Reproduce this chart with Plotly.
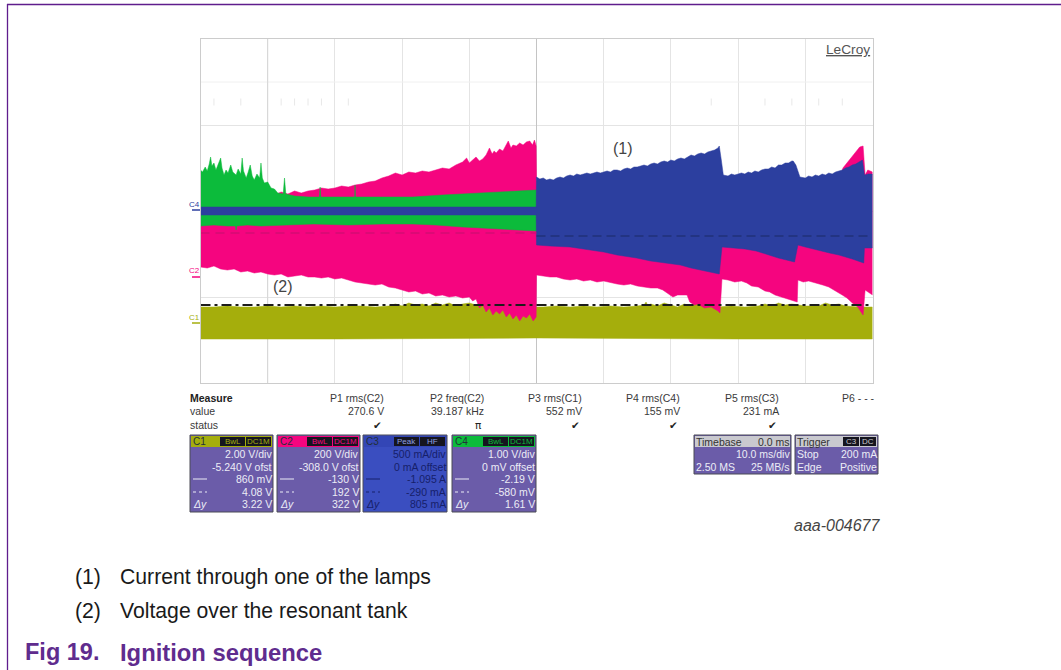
import plotly.graph_objects as go

# --- scope trace envelopes: t in ms (10 ms/div), level in screen units (43 units = 1 div, 0 = centre)
green_top_t = [0,.3,.7,1,1.3,1.5,1.7,2,2.3,2.6,3,3.2,3.5,3.8,4.1,4.5,4.8,5.3,5.6,6,6.2,6.4,6.8,7.1,7.4,7.7,8,8.4,8.8,9,9.2,9.5,10,10.5,11,11.5,12.3,12.5,12.7,14,16,17.7,17.8,17.9,20,22.95,23,23.05,27,31.6,36,41.6,46,50]
green_top_u = [41,39,44,40,47,54,45,48,41,46,53,43,36,41,38,46,39,36,42,37,53,40,33,39,46,35,31,37,33,48,33,28,29,23,22,18,17,33,17,15,14,14,24,14,14,14,26,14,14,14,16,18,19,21]
green_bot_t = [0,2,4,5.2,5.3,5.4,7,9,12,16.8,22,27,31.6,35,39,44,50]
green_bot_u = [-15,-14,-15,-15,-19,-15,-14,-15,-14,-13,-14,-13,-13,-14,-16,-18,-20]

blue_top_t = [0,49.95,50,50.5,51,51.5,52,52.5,53,53.5,54,54.5,55,55.5,56,56.5,57,57.5,58,58.5,59,59.5,60,60.5,61,61.5,62,62.5,63,63.5,64,64.5,65,65.5,66,66.5,67,67.5,68,68.5,69,69.5,70,70.5,71,71.5,72,72.5,73,73.5,74,74.5,75,75.5,76,76.5,77,77.2,77.5,77.8,78.5,79,79.5,80,80.5,81,81.5,82,82.5,83,83.5,84,84.5,85,85.5,86,86.5,87,87.5,88,88.2,88.6,89.2,90,90.5,91,91.5,92,92.5,93,93.5,94,94.5,95,95.5,96,96.5,97,97.5,98,98.5,98.8,99.4,100]
blue_top_u = [4,4,34,32,33,31,32,31,33,34,33,35,36,35,37,36,37,38,37,38,39,38,39,40,39,41,41,40,42,43,42,44,44,45,46,45,47,48,47,49,50,49,51,50,52,53,52,54,56,55,57,58,57,59,60,61,63,65,51,36,35,37,36,37,38,37,39,38,40,39,41,42,42,44,43,46,46,48,48,50,50,46,34,33,35,34,36,35,37,36,38,37,39,40,41,43,44,46,47,49,51,36,37,37]
blue_bot_t = [0,49.95,50,52,55,57,60,62,64.9,67,69,71.4,73,75,77.2,77.6,79,81,82.7,84,86,88.4,88.9,90,92,93.6,95,97,98.7,98.8,100]
blue_bot_u = [-4,-4,-34,-35,-36,-38,-41,-44,-47,-50,-52,-54,-57,-60,-63,-36,-37,-38,-40,-43,-47,-51,-34,-36,-39,-42,-44,-48,-52,-37,-37]

pink_top_t = [0,11,12,13,14,15,16,17,18,19,20,21,22,23,24,25,26,27,28,29,30,31,32,33,34,35,36,37,38,39,39.6,40,40.5,41,41.5,42,42.5,43,43.4,43.7,44,44.5,45,45.4,45.8,46.2,46.5,47,47.5,48,48.5,49,49.4,49.7,49.95,50,95,95.6,97,98.1,98.6,98.9,99.3,100]
pink_top_u = [10,16,19,17,20,18,20,21,23,22,23,25,24,26,27,29,30,33,35,38,36,39,38,40,39,41,43,42,46,49,53,48,51,54,50,52,56,63,57,60,58,62,60,65,70,63,66,65,68,66,69,70,66,71,65,30,30,43,55,64,65,36,41,39]
pink_bot_t = [0,1,2,3,4,5,6,7,8,9,10,11,12,13,14,15,16,17,18,19,20,21,22,23,24,25,26,27,28,29,30,31,32,33,34,35,36,37,38,39,40,40.5,41,41.5,42,42.5,43,43.5,44,44.5,45,45.5,46,46.5,47,47.5,48,48.5,49,49.5,49.95,50,51,52,53,54,55,56,57,58,59,60,61.4,62,63,64,65,66,67,68,68.8,69.5,70.3,71,72.4,72.8,73.5,74,75,76,77,77.3,77.6,78.5,79.5,80.5,81.3,82,83,84,84.7,85.5,86.5,87.5,88.8,88.9,89.7,90.5,91.5,92.6,93.5,94.5,95.5,96.2,97,97.8,98.6,98.9,100]
pink_bot_u = [-56,-57,-55,-58,-59,-58,-61,-60,-62,-61,-63,-64,-63,-66,-65,-64,-66,-66,-67,-66,-68,-67,-69,-71,-72,-73,-74,-73,-76,-77,-79,-81,-80,-83,-82,-85,-84,-86,-85,-87,-86,-90,-88,-97,-94,-101,-97,-104,-100,-103,-99,-106,-102,-108,-104,-110,-105,-107,-103,-110,-106,-64,-65,-66,-66,-68,-69,-68,-70,-69,-71,-70,-72,-73,-74,-73,-75,-76,-77,-77,-79,-82,-86,-84,-84,-91,-94,-93,-97,-96,-100,-102,-68,-69,-71,-70,-72,-75,-76,-80,-81,-84,-86,-88,-91,-69,-71,-70,-72,-74,-76,-80,-84,-87,-92,-96,-104,-79,-84]

olive_top_t = [0,2,4,6,8,10,12,14,16,18,20,22,24,26,28,29,30,31,32,33,34,35,36,37,38,39,40,41,42,43,44,50,51,53,55,57,59,61,63,65,66,66.3,66.6,67,68,69,70,71,72,73,74,75,77,79,81,83,84,85,86,87,88,90,92,93,94,95,96,98,100]
olive_top_u = [-96,-96,-95,-96,-96,-95,-96,-95,-96,-95,-96,-95,-95,-96,-95,-93,-95,-92,-94,-93,-95,-92,-94,-92,-95,-93,-92,-94,-92,-95,-96,-96,-96,-95,-96,-95,-96,-95,-96,-95,-94,-91,-95,-93,-95,-92,-94,-96,-93,-95,-92,-94,-96,-95,-96,-95,-93,-95,-92,-94,-93,-95,-95,-92,-94,-93,-95,-96,-96]
olive_bot_t = [0,20,50,80,100]
olive_bot_u = [-128,-128,-127,-128,-128]

faint_t = [2,6,12,14,16,18,22,76,84,88,92,95.5]
faint_u = [109,109,109,109,109,109,109,109,109,109,109,109]

# --- texts
meas_names = ["P1 rms(C2)","P2 freq(C2)","P3 rms(C1)","P4 rms(C4)","P5 rms(C3)","P6 - - -"]
meas_values = ["270.6 V","39.187 kHz","552 mV","155 mV","231 mA",""]
meas_status = ["✔","π","✔","✔","✔",""]
ch_names = ["C1","C2","C3","C4"]
ch_badges = [("BwL","DC1M"),("BwL","DC1M"),("Peak","HF"),("BwL","DC1M")]
ch_rows = [
    ["2.00 V/div","-5.240 V ofst","860 mV","4.08 V","3.22 V"],
    ["200 V/div","-308.0 V ofst","-130 V","192 V","322 V"],
    ["500 mA/div","0 mA offset","-1.095 A","-290 mA","805 mA"],
    ["1.00 V/div","0 mV offset","-2.19 V","-580 mV","1.61 V"],
]
notes = ["Current through one of the lamps","Voltage over the resonant tank"]

PINK, BLUE, GREEN, OLIVE = "#F5057F", "#2C3F9F", "#0CBB3B", "#A5AE0C"
FONT = "Liberation Sans"
W, H = 1061, 670
px = lambda x: x / W
py = lambda y: 1 - y / H


def poly(tt, tu, bt, bu, color):
    return go.Scatter(x=tt + bt[::-1], y=tu + bu[::-1], mode="lines", fill="toself",
                      fillcolor=color, line=dict(color=color, width=0.5), hoverinfo="skip")


fig = go.Figure()
fig.add_trace(go.Scatter(x=[0, 100], y=[129, 129], mode="lines", line=dict(color="#f0f0f0", width=1), hoverinfo="skip"))
for t0, c in ((50, "#c4c4c4"), (10, "#d6d6d6")):
    fig.add_trace(go.Scatter(x=[t0, t0], y=[-172, 172], mode="lines", line=dict(color=c, width=1), hoverinfo="skip"))
fig.add_trace(go.Scatter(x=faint_t, y=faint_u, mode="markers", hoverinfo="skip",
                         marker=dict(symbol="line-ns", size=5, line=dict(color="#e8e8e8", width=1))))
fig.add_trace(poly(olive_top_t, olive_top_u, olive_bot_t, olive_bot_u, OLIVE))
fig.add_trace(poly(pink_top_t, pink_top_u, pink_bot_t, pink_bot_u, PINK))
fig.add_trace(poly(green_top_t, green_top_u, green_bot_t, green_bot_u, GREEN))
fig.add_trace(poly(blue_top_t, blue_top_u, blue_bot_t, blue_bot_u, BLUE))
fig.add_trace(go.Scatter(x=[0, 50], y=[-22, -22], mode="lines", line=dict(color="#C4106F", width=1.2, dash="9px,6px"), hoverinfo="skip"))
fig.add_trace(go.Scatter(x=[50, 100], y=[-25, -25], mode="lines", line=dict(color="#1B2A66", width=1.2, dash="9px,5px"), hoverinfo="skip"))
fig.add_trace(go.Scatter(x=[0, 100], y=[-94, -94], mode="lines", line=dict(color="#1c1c1c", width=2, dash="10px,4px,3px,4px"), hoverinfo="skip"))
fig.add_trace(go.Scatter(x=[50], y=[-176], mode="markers", cliponaxis=False, hoverinfo="skip",
                         marker=dict(symbol="triangle-up", size=7, color="#3A49A8")))
fig.add_trace(go.Scatter(x=[100.7], y=[18], mode="markers", cliponaxis=False, hoverinfo="skip",
                         marker=dict(symbol="triangle-left", size=7, color="#3A5AA8")))

shapes, ann = [], []


def rect(x0, y0, x1, y1, fill, line=None, lw=1):
    shapes.append(dict(type="rect", xref="paper", yref="paper", x0=px(x0), x1=px(x1), y0=py(y1), y1=py(y0),
                       fillcolor=fill, line=dict(color=line or fill, width=lw if line else 0)))


def hline(x0, x1, y, color, lw=1, dash="solid"):
    shapes.append(dict(type="line", xref="paper", yref="paper", x0=px(x0), x1=px(x1), y0=py(y), y1=py(y),
                       line=dict(color=color, width=lw, dash=dash)))


def text(x, y, s, size=10.5, color="#3a3a3a", anchor="right", bold=False, italic=False, family=FONT):
    if bold:
        s = f"<b>{s}</b>"
    if italic:
        s = f"<i>{s}</i>"
    ann.append(dict(xref="paper", yref="paper", x=px(x), y=py(y), text=s, showarrow=False, xanchor=anchor,
                    yanchor="middle", align=anchor, borderpad=0, borderwidth=0,
                    font=dict(family=family, size=size, color=color)))


# page frame
hline(7, W, 4.5, "#5F1D8D", 1.3)
shapes.append(dict(type="line", xref="paper", yref="paper", x0=px(7.5), x1=px(7.5), y0=0, y1=py(4),
                   line=dict(color="#5F1D8D", width=1.3)))

# channel tags left of the grid
for y_t, y_l, s, c in ((204, 210, "C4", BLUE), (270, 277, "C2", PINK), (317, 323, "C1", OLIVE)):
    text(194, y_t, s, size=8, color=c, anchor="center")
    hline(192, 200, y_l, c, 1.5)

text(870, 49, "<u>LeCroy</u>", size=13.7, color="#555555")
text(623, 148, "(1)", size=16, color="#444444", anchor="center")
text(283, 286, "(2)", size=16, color="#444444", anchor="center")

# measure table
text(190, 398, "Measure", anchor="left", bold=True, color="#222222")
text(190, 411, "value", anchor="left")
text(190, 425, "status", anchor="left")
for xr, n, v, st in zip((384, 484, 582, 680, 779, 875), meas_names, meas_values, meas_status):
    text(xr, 398, n)
    text(xr, 411, v)
    text(xr - 2, 425, st, size=10.5, color="#222222", family="DejaVu Sans")

# channel panels
boxes = ((190, 273), (277, 360), (363, 447), (452, 536))
heads = (OLIVE, PINK, "#3346B6", GREEN)
fills = ("#6B5CA9", "#6B5CA9", "#3A4EC0", "#6B5CA9")
inks = ("#ECECF6", "#ECECF6", "#16206A", "#ECECF6")
row_y = (454, 467, 479, 492, 504)
for (x0, x1), name, badges, rows, hd, fl, ink in zip(boxes, ch_names, ch_badges, ch_rows, heads, fills, inks):
    rect(x0, 435, x1, 512, fl, "#4a4a55", 1)
    rect(x0 + 1, 436, x1 - 1, 447, hd)
    rect(x1 - 53, 437, x1 - 28, 446, "#15151f")
    rect(x1 - 27, 437, x1 - 2, 446, "#15151f")
    text(x0 + 3, 441.5, name, size=10, color="#22303a", anchor="left")
    text(x1 - 40.5, 441.5, badges[0], size=8, color=hd if hd != "#3346B6" else "#8fa0e0", anchor="center")
    text(x1 - 14.5, 441.5, badges[1], size=8, color=hd if hd != "#3346B6" else "#8fa0e0", anchor="center")
    for y, r in zip(row_y, rows):
        text(x1 - 1, y, r, color=ink)
    hline(x0 + 3, x0 + 17, row_y[2], ink, 1)
    hline(x0 + 3, x0 + 17, row_y[3], ink, 1, "dot")
    text(x0 + 3, row_y[4], "<i>Δy</i>", color=ink, anchor="left")

# timebase and trigger panels
rect(694, 435, 791, 474, "#6B5CA9", "#4a4a55", 1)
rect(695, 436, 790, 447, "#C9C9CF")
text(696, 441.5, "Timebase", color="#333333", anchor="left")
text(790, 441.5, "0.0 ms", color="#333333")
text(790, 454, "10.0 ms/div", color="#ECECF6")
text(696, 467, "2.50 MS", color="#ECECF6", anchor="left")
text(790, 467, "25 MB/s", color="#ECECF6")
rect(795, 435, 878, 474, "#6B5CA9", "#4a4a55", 1)
rect(796, 436, 877, 447, "#C9C9CF")
text(797, 441.5, "Trigger", color="#333333", anchor="left")
rect(843, 437, 859, 446, "#15151f")
rect(860, 437, 876, 446, "#15151f")
text(851, 441.5, "C3", size=8, color="#C9C9CF", anchor="center")
text(868, 441.5, "DC", size=8, color="#C9C9CF", anchor="center")
text(797, 454, "Stop", color="#ECECF6", anchor="left")
text(877, 454, "200 mA", color="#ECECF6")
text(797, 467, "Edge", color="#ECECF6", anchor="left")
text(877, 467, "Positive", color="#ECECF6")

text(881, 525, "aaa-004677", size=16, color="#444444", italic=True)

# footnotes and caption
for y, k, n in zip((577, 611), ("(1)", "(2)"), notes):
    text(75, y, k, size=21.2, color="#1a1a1a", anchor="left")
    text(119.5, y, n, size=21.2, color="#1a1a1a", anchor="left")
text(25, 652, "Fig 19.", size=23.5, color="#5F2C8E", anchor="left", bold=True)
text(119.5, 652, "Ignition sequence", size=23.8, color="#5F2C8E", anchor="left", bold=True)

fig.update_layout(
    width=W, height=H, margin=dict(l=0, r=0, t=0, b=0), autosize=False, showlegend=False,
    paper_bgcolor="white", plot_bgcolor="white", shapes=shapes, annotations=ann,
    xaxis=dict(domain=[px(200.5), px(872.5)], range=[0, 100], dtick=10, showticklabels=False, ticks="",
               showgrid=True, gridcolor="#e4e4e4", gridwidth=1, zeroline=False,
               showline=True, mirror=True, linecolor="#cccccc", linewidth=1),
    yaxis=dict(domain=[py(383), py(39)], range=[-172, 172], tick0=0, dtick=86, showticklabels=False, ticks="",
               showgrid=True, gridcolor="#e4e4e4", gridwidth=1, zeroline=False,
               showline=True, mirror=True, linecolor="#cccccc", linewidth=1),
)
fig.write_html("out.html", config=dict(displayModeBar=False),
               post_script="document.body.style.margin='0';document.body.style.overflow='hidden';")
